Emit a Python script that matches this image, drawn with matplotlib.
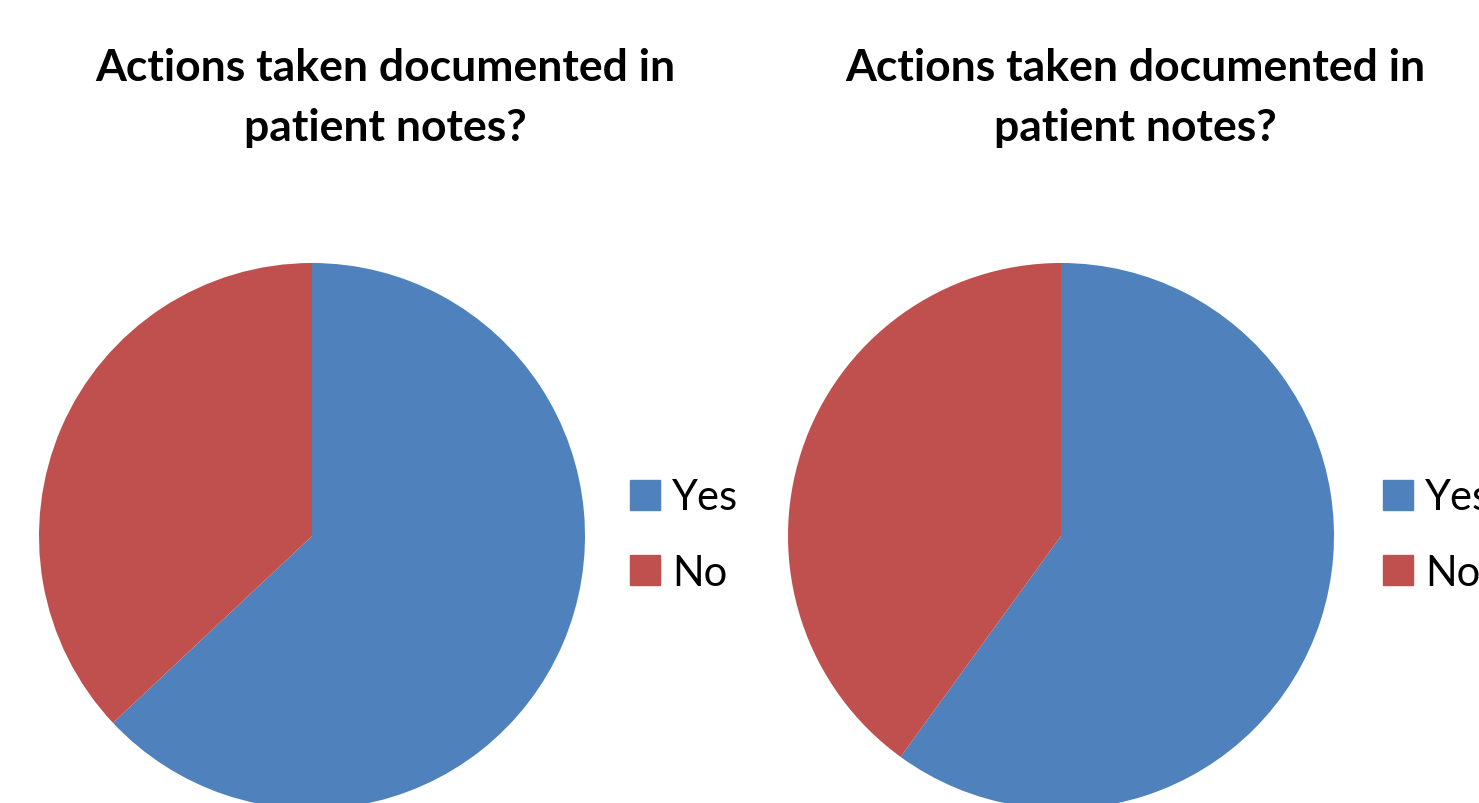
import matplotlib
matplotlib.use("Agg")
import matplotlib.pyplot as plt
from matplotlib.lines import Line2D

labels = ["Yes", "No"]
left_values = [63, 37]
right_values = [60, 40]
title = "Actions taken documented in\npatient notes?"
colors = ["#4F81BD", "#C0504D"]

W, H = 1479, 804
fig = plt.figure(figsize=(W / 100, H / 100), dpi=100)
fig.patch.set_facecolor("white")

def px_axes(cx, cy, r):
    return fig.add_axes([(cx - r) / W, (H - cy - r) / H, 2 * r / W, 2 * r / H])

pies = [(312, 537, left_values, 385, 630), (1061, 537, right_values, 1135, 1383)]
for cx, cy, vals, tx, lx in pies:
    ax = px_axes(cx, cy, 273)
    ax.pie(vals, colors=colors, startangle=90, counterclock=False,
           wedgeprops=dict(linewidth=0))
    ax.set_xlim(-1, 1)
    ax.set_ylim(-1, 1)
    ax.set_aspect("equal")
    ax.axis("off")
    fig.text(tx / W, 1 - 98 / H, title, ha="center", va="center",
             fontsize=32, fontweight="bold", family="Lato", linespacing=1.6)
    handles = [Line2D([], [], marker="s", linestyle="", markersize=21,
                      markerfacecolor=c, markeredgecolor=c) for c in colors]
    fig.legend(handles, labels, loc="center left",
               bbox_to_anchor=(lx / W, 1 - 536 / H),
               frameon=False, prop=dict(family="Lato", size=30),
               handlelength=0.72, handletextpad=0.29, labelspacing=0.9,
               borderpad=0, borderaxespad=0)

fig.savefig("out.png", dpi=100)
